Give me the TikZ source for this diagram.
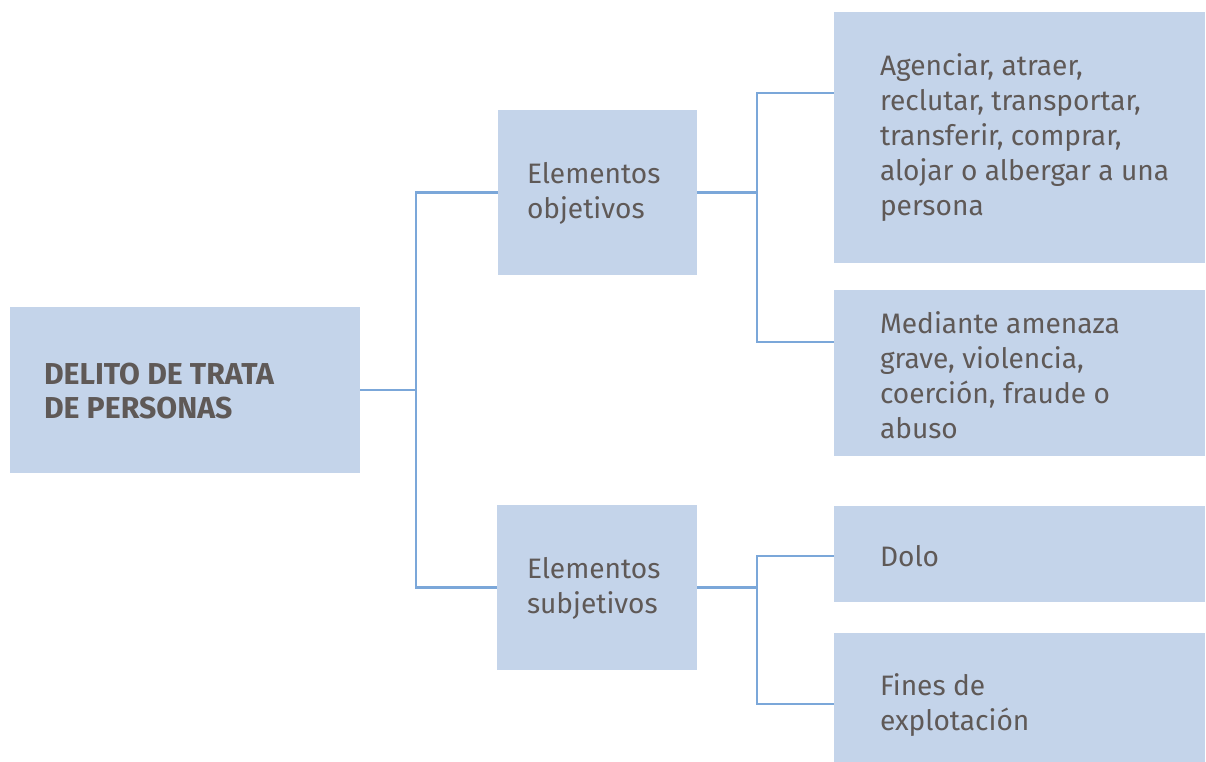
\documentclass[tikz,border=0pt]{standalone}
\usepackage{fontspec}
\setmainfont{Fira Sans}
\usepackage{xcolor}
\usepackage{tikz}
\usetikzlibrary{positioning}
\definecolor{boxfill}{HTML}{C4D4EA}
\definecolor{linkblue}{HTML}{7BA7D9}
\definecolor{txtgray}{HTML}{5F5957}
\newcommand\boxtext{\fontsize{20pt}{25pt}\selectfont}
\newcommand\headtext{\fontsize{21.5pt}{24pt}\selectfont\bfseries}

\begin{document}
\begin{tikzpicture}[
  box/.style={fill=boxfill, draw=none, inner sep=0pt},
  lbl/.style={anchor=west, align=left, inner sep=0pt, text=txtgray, font=\boxtext},
  link/.style={draw=linkblue, line width=1.8pt}]
  \useasboundingbox (0,0) rectangle (30.15,19.05);
  % cajas
  \node[box, minimum width=8.75cm, minimum height=4.15cm] (delito) at (4.625,9.3) {};
  \node[box, minimum width=4.975cm, minimum height=4.125cm] (obj) at (14.9375,14.2375) {};
  \node[box, minimum width=5cm, minimum height=4.125cm] (subj) at (14.925,4.3625) {};
  \node[box, minimum width=9.275cm, minimum height=6.275cm] (verbos) at (25.4875,15.6125) {};
  \node[box, minimum width=9.275cm, minimum height=4.15cm] (medios) at (25.4875,9.725) {};
  \node[box, minimum width=9.275cm, minimum height=2.4cm] (dolo) at (25.4875,5.2) {};
  \node[box, minimum width=9.275cm, minimum height=3.225cm] (fines) at (25.4875,1.6125) {};
  % textos
  \node[lbl, font=\headtext] (tdelito) at ([xshift=0.85cm, yshift=-0.03cm]delito.west) {DELITO DE TRATA\\DE PERSONAS};
  \node[lbl] (tobj) at ([xshift=0.725cm, yshift=-0.03cm]obj.west) {Elementos\\objetivos};
  \node[lbl] (tsubj) at ([xshift=0.75cm, yshift=-0.03cm]subj.west) {Elementos\\subjetivos};
  \node[lbl] (tverbos) at ([xshift=1.15cm, yshift=0cm]verbos.west) {Agenciar, atraer,\\reclutar, transportar,\\transferir, comprar,\\alojar o albergar a una\\persona};
  \node[lbl] (tmedios) at ([xshift=1.15cm, yshift=-0.05cm]medios.west) {Mediante amenaza\\grave, violencia,\\coerción, fraude o\\abuso};
  \node[lbl] (tdolo) at ([xshift=1.15cm, yshift=-0.05cm]dolo.west) {Dolo};
  \node[lbl] (tfines) at ([xshift=1.15cm, yshift=-0.18cm]fines.west) {Fines de\\explotación};
  % conectores
  \coordinate (bus1) at (10.4,9.3);
  \coordinate (bus2) at (18.925,14.2375);
  \coordinate (bus3) at (18.925,4.3625);
  \draw[link] (delito.east) -- (bus1);
  \draw[link] (obj.west) -| (bus1) |- (subj.west);
  \draw[link] (obj.east) -- (bus2);
  \draw[link] ([yshift=1.1125cm]verbos.west) -| (bus2) |- ([yshift=0.775cm]medios.west);
  \draw[link] (subj.east) -- (bus3);
  \draw[link] ([yshift=-0.05cm]dolo.west) -| (bus3) |- ([yshift=-0.16cm]fines.west);
\end{tikzpicture}
\end{document}
